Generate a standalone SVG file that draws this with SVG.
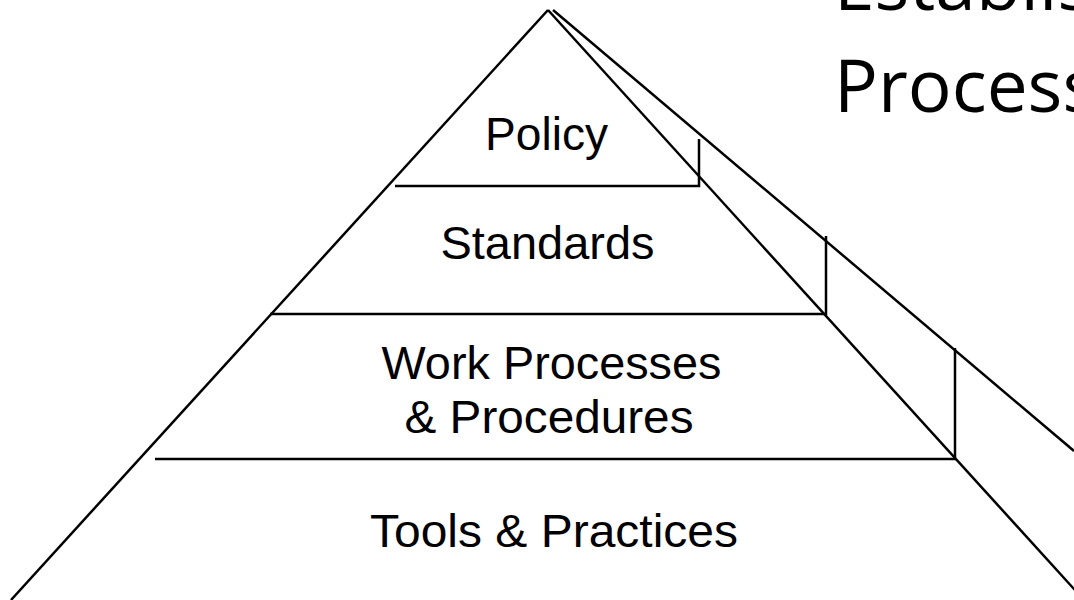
<svg xmlns="http://www.w3.org/2000/svg" width="1074" height="600" viewBox="0 0 1074 600">
<style>
.ln{stroke:#000;stroke-width:2.5;fill:none}
.lbl{font-family:"Liberation Sans",Arial,sans-serif;font-size:46px;fill:#000;text-anchor:middle}
.title{font-family:"Open Sans","Noto Sans",sans-serif;font-size:73px;fill:#000}
</style>
<rect width="1074" height="600" fill="#fff"/>
<g id="title">
<text class="title" x="834" y="10">Establis</text>
<text class="title" x="834" y="111.7">Process</text>
</g>
<g id="connectors">
<line class="ln" x1="548" y1="10" x2="11" y2="600"/>
<line class="ln" x1="548" y1="10" x2="1084" y2="600"/>
<line class="ln" x1="553" y1="10" x2="1074" y2="451"/>
<polyline class="ln" points="395,186 699,186 699,139"/>
<polyline class="ln" points="270,314 826,314 826,236"/>
<polyline class="ln" points="155,459 955,459 955,348"/>
</g>
<g id="policy"><text class="lbl" x="546.5" y="150" textLength="123" lengthAdjust="spacingAndGlyphs">Policy</text></g>
<g id="standards"><text class="lbl" x="547.5" y="259" textLength="214" lengthAdjust="spacingAndGlyphs">Standards</text></g>
<g id="work"><text class="lbl" x="551.5" y="379" textLength="340" lengthAdjust="spacingAndGlyphs">Work Processes</text><text class="lbl" x="549" y="433" textLength="289" lengthAdjust="spacingAndGlyphs">&amp; Procedures</text></g>
<g id="tools"><text class="lbl" x="554" y="546.5" textLength="368" lengthAdjust="spacingAndGlyphs">Tools &amp; Practices</text></g>
</svg>
